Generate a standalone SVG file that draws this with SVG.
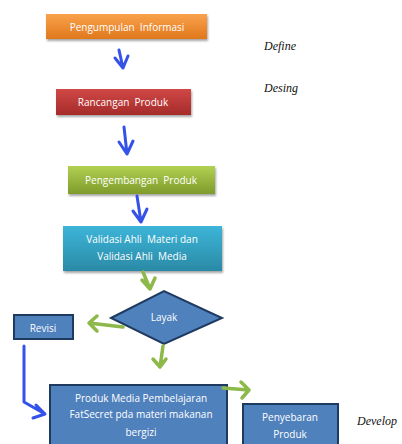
<svg xmlns="http://www.w3.org/2000/svg" width="402" height="444" viewBox="0 0 402 444">
<defs>
<linearGradient id="gOr" x1="0" y1="0" x2="0" y2="1"><stop offset="0" stop-color="#f9a24c"/><stop offset="1" stop-color="#e0781c"/></linearGradient>
<linearGradient id="gRd" x1="0" y1="0" x2="0" y2="1"><stop offset="0" stop-color="#d04846"/><stop offset="1" stop-color="#a52b2a"/></linearGradient>
<linearGradient id="gGr" x1="0" y1="0" x2="0" y2="1"><stop offset="0" stop-color="#b2d152"/><stop offset="1" stop-color="#7e9b2b"/></linearGradient>
<linearGradient id="gCy" x1="0" y1="0" x2="0" y2="1"><stop offset="0" stop-color="#3db5d9"/><stop offset="1" stop-color="#2a8aa6"/></linearGradient>
<filter id="sh" x="-10%" y="-10%" width="130%" height="140%"><feDropShadow dx="1" dy="2" stdDeviation="1.2" flood-color="#000" flood-opacity="0.35"/></filter>
</defs>
<style>
.t{font-family:"Open Sans","Liberation Sans",sans-serif;font-size:10px;fill:#fff;text-anchor:middle;dominant-baseline:central;white-space:pre}
.lbl{font-family:"Liberation Serif",serif;font-style:italic;font-size:12px;fill:#111}
.bl{fill:#4f81bd;stroke:#1f3a5f;stroke-width:2}
.ab{fill:none;stroke:#3451e8;stroke-width:3;stroke-linecap:round;stroke-linejoin:round}
.ag{fill:none;stroke:#8db84a;stroke-width:3.5;stroke-linecap:round;stroke-linejoin:round}
</style>

<g id="n1"><rect x="46" y="14" width="161" height="25" fill="url(#gOr)" filter="url(#sh)"/><text class="t" x="127" y="27" xml:space="preserve">Pengumpulan  Informasi</text></g>
<g id="n2"><rect x="56" y="89" width="135" height="26" fill="url(#gRd)" filter="url(#sh)"/><text class="t" x="123" y="102" xml:space="preserve">Rancangan  Produk</text></g>
<g id="n3"><rect x="68" y="166" width="147" height="28" fill="url(#gGr)" filter="url(#sh)"/><text class="t" x="141" y="180" xml:space="preserve">Pengembangan  Produk</text></g>
<g id="n4"><rect x="63" y="226" width="159" height="45" fill="url(#gCy)" filter="url(#sh)"/><text class="t" x="142" y="239" xml:space="preserve">Validasi Ahli  Materi dan</text><text class="t" x="142" y="256" xml:space="preserve">Validasi Ahli  Media</text></g>
<g id="n5"><polygon class="bl" points="111,318 164,291 222,318 164,344"/><text class="t" x="164" y="317">Layak</text></g>
<g id="n6"><rect class="bl" x="14" y="315" width="59" height="24"/><text class="t" x="43" y="328">Revisi</text></g>
<g id="n7"><rect class="bl" x="50" y="385" width="177" height="62"/><text class="t" x="141" y="398">Produk Media Pembelajaran</text><text class="t" x="141" y="414">FatSecret pda materi makanan</text><text class="t" x="141" y="432">bergizi</text></g>
<g id="n8"><rect class="bl" x="243" y="404" width="95" height="45"/><text class="t" x="290" y="417">Penyebaran</text><text class="t" x="290" y="434">Produk</text></g>

<g id="connectors">
<path class="ab" d="M119,50 L123,68 M115,58 L123,68 L128,56"/>
<path class="ab" d="M124,127 L127,154 M119,142 L127,154 L133,141"/>
<path class="ab" d="M137,196 L141,222 M133,211 L141,222 L147,209"/>
<path class="ag" d="M143,272 L150,289 M142,280 L150,289 L155,278"/>
<path class="ag" d="M123,327 L89,323 M97,316 L89,323 L97,331"/>
<path class="ag" d="M163,346 L160,367 M153,359 L160,367 L166,359"/>
<path class="ab" d="M24,346 L24,402 L45,414 M36,405 L45,414 L33,418"/>
<path class="ag" d="M223,388 L249,390 M241,382 L249,390 L242,398"/>
</g>

<text class="lbl" x="264" y="50">Define</text>
<text class="lbl" x="264" y="92">Desing</text>
<text class="lbl" x="357" y="425">Develop</text>
</svg>
